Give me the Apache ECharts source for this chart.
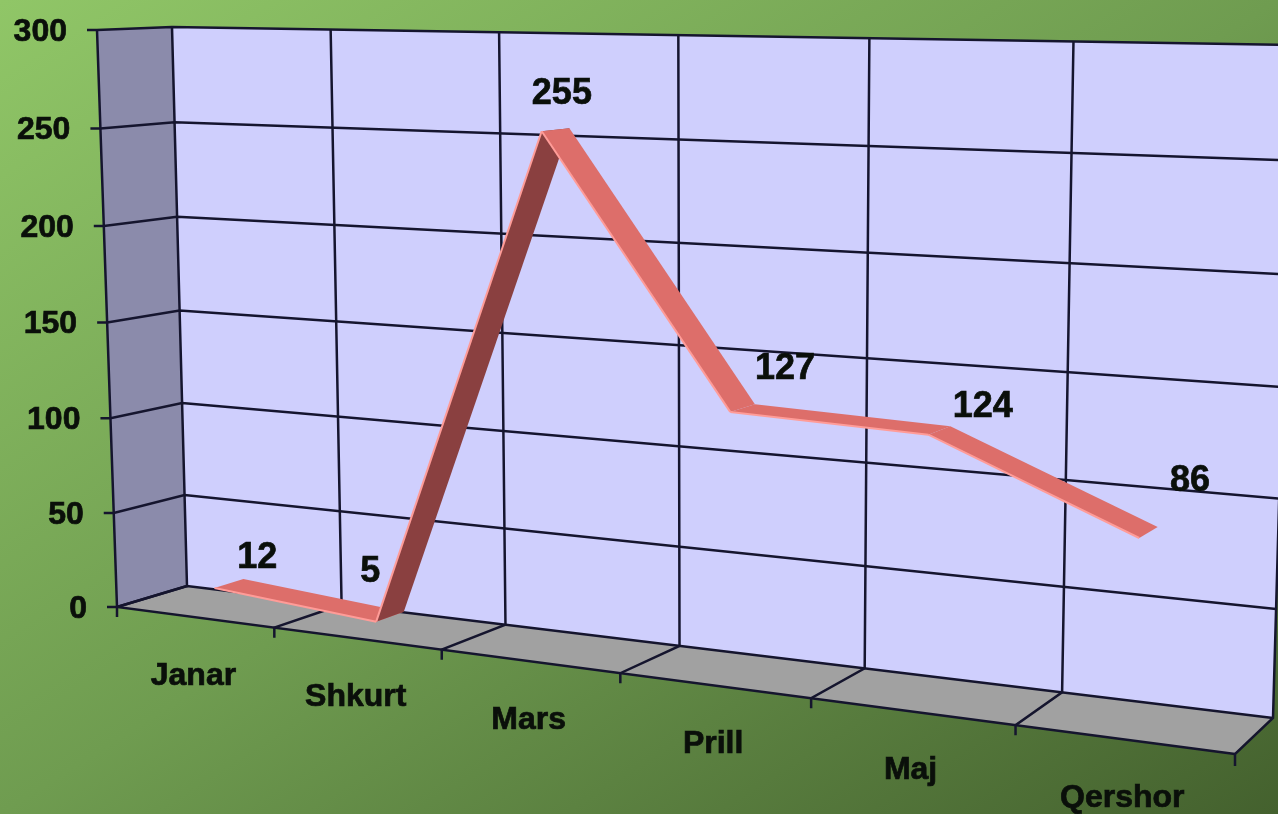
<!DOCTYPE html>
<html>
<head>
<meta charset="utf-8">
<style>html,body{margin:0;padding:0;overflow:hidden}#main{width:1278px;height:814px}</style>
<script src="https://cdn.jsdelivr.net/npm/echarts@6/dist/echarts.min.js"></script>
</head>
<body>
<div id="main"></div>
<script>
var categories = ["Janar", "Shkurt", "Mars", "Prill", "Maj", "Qershor"];
var values = [12, 5, 255, 127, 124, 86];
var yTicks = [0, 50, 100, 150, 200, 250, 300];

// corners of the chart box on screen: bottom-left, bottom-right, top-right, top-left
var frontQuad = [[117, 607], [1235, 754], [1249, 50], [97, 30]];
var backQuad = [[187, 586], [1273, 718], [1292, 45], [172, 27]];
// the ribbon sits in the middle of the box depth
var ribbonFront = 0.30, ribbonBack = 0.72;
// nudges for the value labels, relative to the ribbon point
var labelNudge = [[29, -26], [-19, -45], [7, -36], [43, -39], [44, -24], [42, -52]];

var lineColor = "#15152e";
var labelFont = "bold 32px 'Liberation Sans', Arial, sans-serif";
var valueFont = "bold 36px 'Liberation Sans', Arial, sans-serif";

function makeHomography(q) {
    var dx1 = q[1][0] - q[2][0], dy1 = q[1][1] - q[2][1];
    var dx2 = q[3][0] - q[2][0], dy2 = q[3][1] - q[2][1];
    var sx = q[0][0] - q[1][0] + q[2][0] - q[3][0];
    var sy = q[0][1] - q[1][1] + q[2][1] - q[3][1];
    var det = dx1 * dy2 - dx2 * dy1;
    var g = (sx * dy2 - dx2 * sy) / det;
    var h = (dx1 * sy - sx * dy1) / det;
    return function (u, v) {
        var w = g * u + h * v + 1;
        return [
            ((q[1][0] - q[0][0] + g * q[1][0]) * u + (q[3][0] - q[0][0] + h * q[3][0]) * v + q[0][0]) / w,
            ((q[1][1] - q[0][1] + g * q[1][1]) * u + (q[3][1] - q[0][1] + h * q[3][1]) * v + q[0][1]) / w
        ];
    };
}
var frontPlane = makeHomography(frontQuad);
var backPlane = makeHomography(backQuad);

// axis value -> flat grid pixel (from echarts) -> box position on screen
// side: -0.5 left edge of the category band, 0 centre, 0.5 right edge
function project(params, api, index, value, depth, side) {
    var c = api.coord([index, value]);
    var band = api.size([1, 0])[0];
    var sys = params.coordSys;
    var u = (c[0] + (side || 0) * band - sys.x) / sys.width;
    var v = 1 - (c[1] - sys.y) / sys.height;
    var a = frontPlane(u, v), b = backPlane(u, v);
    return [a[0] + (b[0] - a[0]) * depth, a[1] + (b[1] - a[1]) * depth];
}

function poly(points, fill) {
    return {type: "polygon", shape: {points: points}, style: {fill: fill, stroke: null}};
}
function line(points, color, width) {
    return {type: "polyline", shape: {points: points}, style: {fill: null, stroke: color, lineWidth: width}};
}
function text(str, x, y, align, font) {
    return {type: "text", style: {
        text: str, x: x, y: y, align: align, verticalAlign: "middle", font: font,
        fill: "#0a0f0a", stroke: "#0a0f0a", lineWidth: 0.7
    }};
}

function renderWalls(params, api) {
    var last = categories.length - 1, top = yTicks[yTicks.length - 1];
    var fl = function (i, v, d, s) { return project(params, api, i, v, d, s); };
    return {type: "group", children: [
        poly([fl(0, 0, 1, -0.5), fl(last, 0, 1, 0.5), fl(last, top, 1, 0.5), fl(0, top, 1, -0.5)], "#cfcffd"),
        poly([fl(0, 0, 0, -0.5), fl(0, 0, 1, -0.5), fl(0, top, 1, -0.5), fl(0, top, 0, -0.5)], "#8b8bab"),
        poly([fl(0, 0, 0, -0.5), fl(last, 0, 0, 0.5), fl(last, 0, 1, 0.5), fl(0, 0, 1, -0.5)], "#a1a1a1")
    ]};
}

function renderYTick(params, api) {
    var t = yTicks[params.dataIndex], last = categories.length - 1;
    var a = project(params, api, 0, t, 0, -0.5);
    var b = project(params, api, 0, t, 1, -0.5);
    var c = project(params, api, last, t, 1, 0.5);
    return {type: "group", children: [
        line([[a[0] - 10, a[1]], a, b, c], lineColor, 2.5),
        text(String(t), a[0] - 30, a[1] + 2, "right", labelFont)
    ]};
}

function renderCategory(params, api) {
    var i = params.dataIndex, top = yTicks[yTicks.length - 1];
    var kids = [];
    var p0 = project(params, api, i, 0, 0, -0.5), p1 = project(params, api, i, 0, 1, -0.5);
    var p2 = project(params, api, i, top, 1, -0.5);
    kids.push(line([[p0[0], p0[1] + 10], p0, p1, p2], lineColor, 2.5));
    if (i === categories.length - 1) {
        var e0 = project(params, api, i, 0, 0, 0.5), e1 = project(params, api, i, 0, 1, 0.5);
        kids.push(line([[e0[0], e0[1] + 12], e0, e1, project(params, api, i, top, 1, 0.5)], lineColor, 2.5));
    }
    // left edge of the box, and the front edge of the floor
    if (i === 0) {
        kids.push(line([project(params, api, 0, top, 0, -0.5), p0, project(params, api, categories.length - 1, 0, 0, 0.5)], lineColor, 2.5));
    }
    var mid = project(params, api, i, 0, 0, 0);
    kids.push(text(categories[i], mid[0] - 1, mid[1] + 59, "center", labelFont));
    return {type: "group", children: kids};
}

function renderRibbon(params, api) {
    var i = params.dataIndex;
    if (i >= values.length - 1) {
        return null;
    }
    var a0 = project(params, api, i, values[i], ribbonFront);
    var b0 = project(params, api, i + 1, values[i + 1], ribbonFront);
    var b1 = project(params, api, i + 1, values[i + 1], ribbonBack);
    var a1 = project(params, api, i, values[i], ribbonBack);
    // a rising segment shows its underside
    var fill = values[i + 1] > values[i] ? "#8a4040" : "#dd6e6a";
    return {type: "group", children: [
        poly([a0, b0, b1, a1], fill),
        line([a0, b0], "#ff9c98", 2)
    ]};
}

function renderValueLabel(params, api) {
    var i = params.dataIndex;
    var p = project(params, api, i, values[i], 0.5);
    return text(String(values[i]), p[0] + labelNudge[i][0], p[1] + labelNudge[i][1], "center", valueFont);
}

function customSeries(render, data) {
    return {type: "custom", renderItem: render, data: data, encode: {x: 0, y: 1}, clip: false, silent: true, animation: false};
}

var chart = echarts.init(document.getElementById("main"));
chart.setOption({
    animation: false,
    backgroundColor: {
        type: "linear", x: 0.212, y: -0.21, x2: 0.788, y2: 1.21,
        colorStops: [
            {offset: 0, color: "#90c667"},
            {offset: 0.5, color: "#6f9c50"},
            {offset: 1, color: "#44612e"}
        ]
    },
    grid: {left: 0, right: 0, top: 0, bottom: 0},
    xAxis: {type: "category", data: categories, show: false},
    yAxis: {type: "value", min: 0, max: 300, interval: 50, show: false},
    series: [
        customSeries(renderWalls, [[0, 0]]),
        customSeries(renderYTick, yTicks.map(function (t) { return [0, t]; })),
        customSeries(renderCategory, categories.map(function (c, i) { return [i, 0]; })),
        customSeries(renderRibbon, values.map(function (v, i) { return [i, v]; })),
        customSeries(renderValueLabel, values.map(function (v, i) { return [i, v]; }))
    ]
});
</script>
</body>
</html>
